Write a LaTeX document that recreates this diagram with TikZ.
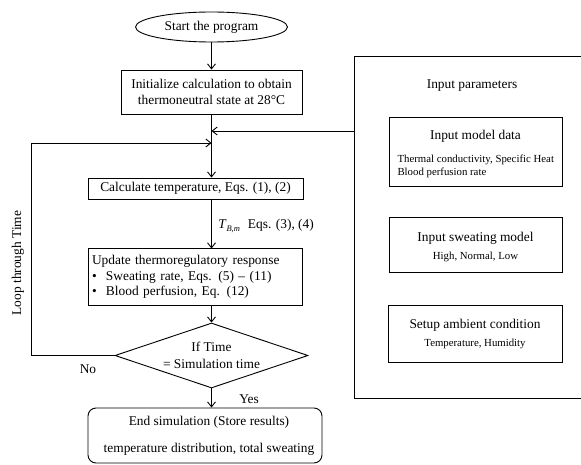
\documentclass[tikz,border=0pt]{standalone}
\usepackage{fontspec}
\setmainfont{Liberation Serif}
\usetikzlibrary{shapes.geometric,arrows.meta,calc}
\tikzset{
  box/.style={draw,line width=0.9pt,inner sep=2pt,align=center},
  arr/.style={-{Straight Barb[length=5pt,width=8pt]},line width=0.9pt},
  ln/.style={line width=0.9pt},
  main/.style={font=\fontsize{13.4}{16}\selectfont},
  small/.style={font=\fontsize{10.8}{13}\selectfont},
}
\begin{document}
\begin{tikzpicture}[x=1pt,y=-1pt]
\useasboundingbox (0,0) rectangle (581,465);
% left flow
\node[box,main,ellipse,minimum width=152pt,minimum height=30pt,inner sep=0pt] (start) at (211.5,27) {Start the program};
\node[box,main,minimum width=181pt,minimum height=44pt,inner sep=0pt] (init) at (211.5,92) {Initialize calculation to obtain\\thermoneutral state at 28\textdegree C};
\node[box,main,minimum width=215pt,minimum height=21pt,inner sep=0pt] (calc) at (195.5,188.5) {Calculate temperature, Eqs. (1), (2)};
\node[box,main,minimum width=214pt,minimum height=57pt,align=left,text width=206pt,inner sep=0pt,font=\fontsize{13.4}{15.5}\selectfont] (upd) at (195,277) {Update thermoregulatory response\\
\makebox[14pt][l]{\textbullet}Sweating rate, Eqs. (5) -- (11)\\
\makebox[14pt][l]{\textbullet}Blood perfusion, Eq. (12)};
\node[draw,line width=0.9pt,diamond,minimum width=193pt,minimum height=65pt,aspect=2.97,inner sep=0pt] (dec) at (211.5,355.5) {};
\node[main,align=center,font=\fontsize{13.4}{17}\selectfont] (dect) at (dec.center) {If Time\\= Simulation time};
\node[box,rounded corners=8pt,minimum width=234pt,minimum height=55pt,inner sep=0pt] (end) at (205,435.5) {};
\node[main,align=center,font=\fontsize{13.4}{27}\selectfont] (endt) at (209,436) {End simulation (Store results)\\temperature distribution, total sweating};
% right box
\draw[ln] (590,56) -- (354,56) -- (354,398) -- (590,398);
\coordinate (pin) at (354,131);
\node[main] (ptitle) at (472,86) {Input parameters};
\node[box,minimum width=173pt,minimum height=69pt] (model) at (475.5,151.5) {};
\node[main] (modelt) at (475.5,136) {Input model data};
\node[small,align=left,anchor=west] (models) at (394,166.5) {Thermal conductivity, Specific Heat\\Blood perfusion rate};
\node[box,minimum width=173pt,minimum height=55pt] (sweat) at (475.5,244.5) {};
\node[main] (sweatt) at (475.5,238) {Input sweating model};
\node[small] (sweats) at (475.5,257) {High, Normal, Low};
\node[box,minimum width=174pt,minimum height=57pt] (amb) at (475,333.5) {};
\node[main] (ambt) at (475,325) {Setup ambient condition};
\node[small] (ambs) at (475,344) {Temperature, Humidity};
% connectors
\draw[arr] (start) -- (init);
\draw[arr] (init.south) -- (init.south |- calc.north);
\draw[arr] (pin) -- (211.5,131);
\draw[arr] (dec.west) -- (31,355.5) coordinate (lc1) -- (31,143) coordinate (lc2) -- (211.5,143);
\draw[arr] (211.5,199) -- (211.5,248.5) node[pos=0.55,right=3pt,main] (lab) {\textit{T}\raisebox{-2.5pt}{\fontsize{8.5}{9}\selectfont\textit{B,m}}\hspace{8pt}Eqs. (3), (4)};
\draw[arr] (211.5,305.5) -- (dec.north);
\draw[arr] (dec.south) -- (end.north -| dec.south);
\node[main] (no) at (88,369) {No};
\node[main] (yes) at (249,399) {Yes};
\node[main,rotate=90] (loop) at (18,263) {Loop through Time};
\end{tikzpicture}
\end{document}
